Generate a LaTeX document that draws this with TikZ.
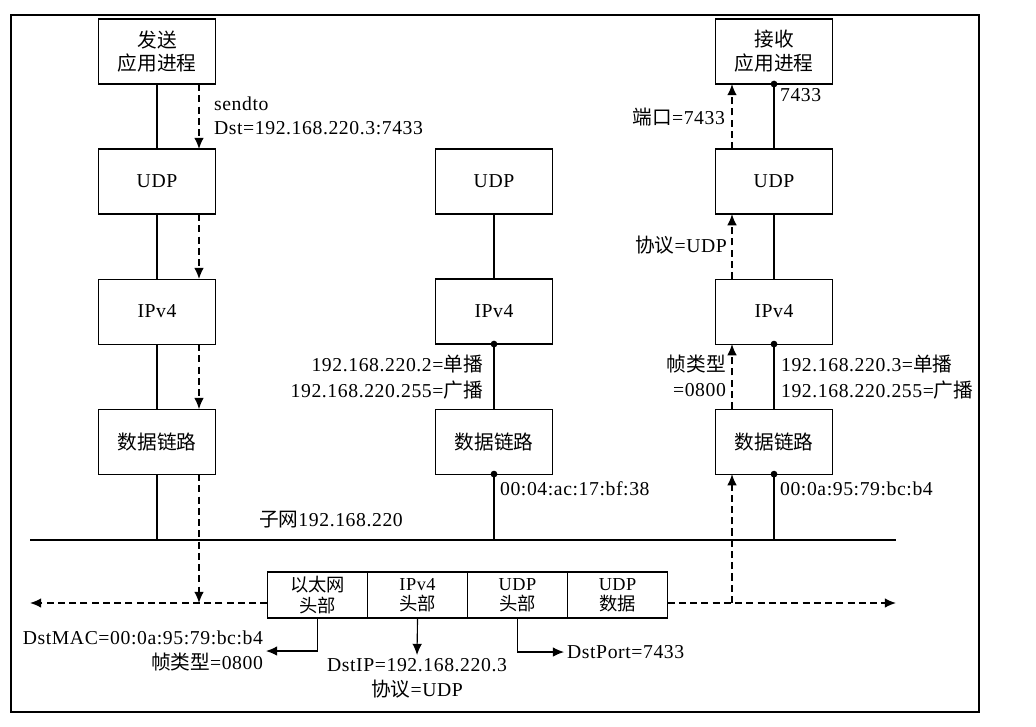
\documentclass[tikz,border=0pt]{standalone}
\usepackage{fontspec}
\setmainfont{Liberation Serif}[LetterSpace=3]
\newfontfamily\cjk{Noto Sans CJK SC}
\newcommand{\zh}[1]{{\cjk #1}}
\usetikzlibrary{arrows.meta, calc, positioning}

\tikzset{
  layer/.style={draw, line width=0.8pt, minimum width=2.925cm, minimum height=1.625cm,
    inner sep=0pt, outer sep=0pt, align=center},
  cell/.style={draw, line width=0.8pt, minimum width=2.5cm, minimum height=1.15cm,
    inner sep=0pt, outer sep=0pt, align=center, font=\fontsize{13}{14.5}\selectfont},
  wire/.style={line width=0.8pt},
  flow/.style={line width=1pt, dash pattern=on 5pt off 3pt, -{Latex[length=2.8mm, width=2.4mm]}},
  tag/.style={line width=0.8pt, -{Latex[length=2.8mm, width=2.4mm]}},
  lbl/.style={inner sep=2pt},
}

\begin{document}
\begin{tikzpicture}[x=0.025cm, y=-0.025cm, node distance=1.625cm,
  font=\fontsize{14}{17}\selectfont]
  \useasboundingbox (0,0) rectangle (1036,726);
  \draw[line width=1.2pt] (11,15) rectangle (979,712);
  % sending host
  \node[layer] (sapp) at (157,51.5) {\zh{发送}\\\zh{应用进程}};
  \node[layer, below=of sapp] (sudp) {UDP};
  \node[layer, below=of sudp] (sip) {IPv4};
  \node[layer, below=of sip] (slink) {\zh{数据链路}};
  % other host
  \node[layer] (mudp) at (494,181.5) {UDP};
  \node[layer, below=of mudp] (mip) {IPv4};
  \node[layer, below=of mip] (mlink) {\zh{数据链路}};
  % receiving host
  \node[layer] (rapp) at (774,51.5) {\zh{接收}\\\zh{应用进程}};
  \node[layer, below=of rapp] (rudp) {UDP};
  \node[layer, below=of rudp] (rip) {IPv4};
  \node[layer, below=of rip] (rlink) {\zh{数据链路}};
  % stack links
  \draw[wire] (sapp) -- (sudp);
  \draw[wire] (sudp) -- (sip);
  \draw[wire] (sip) -- (slink);
  \draw[wire] (mudp) -- (mip);
  \draw[wire] (mip) -- (mlink);
  \draw[wire] (rapp) -- (rudp);
  \draw[wire] (rudp) -- (rip);
  \draw[wire] (rip) -- (rlink);
  % subnet
  \coordinate (lanl) at (30,540);
  \coordinate (lanr) at (896,540);
  \draw[wire] (lanl) -- (lanr);
  \draw[wire] (slink.south) -- (slink.south |- lanl);
  \draw[wire] (mlink.south) -- (mlink.south |- lanl);
  \draw[wire] (rlink.south) -- (rlink.south |- lanl);
  \node[lbl, anchor=west] (subnet) at (256,520) {\zh{子网}192.168.220};
  % bound ports and addresses
  \fill (rapp.south) circle (2.4pt);
  \fill (mip.south) circle (2.4pt);
  \fill (rip.south) circle (2.4pt);
  \fill (mlink.south) circle (2.4pt);
  \fill (rlink.south) circle (2.4pt);
  % frame
  \node[cell] (f1) at (317.5,595) {\zh{以太网}\\\zh{头部}};
  \node[cell, right=0pt of f1] (f2) {IPv4\\\zh{头部}};
  \node[cell, right=0pt of f2] (f3) {UDP\\\zh{头部}};
  \node[cell, right=0pt of f3] (f4) {UDP\\\zh{数据}};
  \coordinate (wl) at (30,603);
  \coordinate (wr) at (896,603);
  \coordinate (sdrop) at (199,603);
  \coordinate (rrise) at (732,603);
  \draw[flow] (f1.west |- wl) -- (wl);
  \draw[flow] (f4.east |- wr) -- (wr);
  % path down the sender
  \draw[flow] ($(sapp.south)+(42,0)$) -- ($(sudp.north)+(42,0)$);
  \draw[flow] ($(sudp.south)+(42,0)$) -- ($(sip.north)+(42,0)$);
  \draw[flow] ($(sip.south)+(42,0)$) -- ($(slink.north)+(42,0)$);
  \draw[flow] ($(slink.south)+(42,0)$) -- (sdrop);
  % path up the receiver
  \draw[flow] (rrise) -- ($(rlink.south)+(-42,0)$);
  \draw[flow] ($(rlink.north)+(-42,0)$) -- ($(rip.south)+(-42,0)$);
  \draw[flow] ($(rip.north)+(-42,0)$) -- ($(rudp.south)+(-42,0)$);
  \draw[flow] ($(rudp.north)+(-42,0)$) -- ($(rapp.south)+(-42,0)$);
  % labels
  \node[lbl, anchor=west, align=left] (send) at (211,116)
    {sendto\\Dst=192.168.220.3:7433};
  \node[lbl, anchor=east, align=right] (maddr) at (486,377)
    {192.168.220.2=\zh{单播}\\[1pt]192.168.220.255=\zh{广播}};
  \node[lbl, anchor=west] (mmac) at (497,489) {00:04:ac:17:bf:38};
  \node[lbl, anchor=west] (rport) at (777,95) {7433};
  \node[lbl, anchor=east] (port) at (728,117) {\zh{端口}=7433};
  \node[lbl, anchor=east] (proto) at (730,245) {\zh{协议}=UDP};
  \node[lbl, anchor=east, align=right] (ftype) at (729,376)
    {\zh{帧类型}\\[1pt]=0800};
  \node[lbl, anchor=west, align=left] (raddr) at (778,377)
    {192.168.220.3=\zh{单播}\\[1pt]192.168.220.255=\zh{广播}};
  \node[lbl, anchor=west] (rmac) at (777,489) {00:0a:95:79:bc:b4};
  % header fields
  \node[lbl, anchor=east, align=right] (mac) at (266,651)
    {DstMAC=00:0a:95:79:bc:b4\\[1pt]\zh{帧类型}=0800};
  \node[lbl, anchor=north, align=center] (ipf) at (417,655)
    {DstIP=192.168.220.3\\[1pt]\zh{协议}=UDP};
  \node[lbl, anchor=west] (portf) at (564,652) {DstPort=7433};
  \draw[tag] (f1.south) |- (mac.east);
  \draw[tag] (f2.south) -- (ipf.north);
  \draw[tag] (f3.south) |- (portf.west);
\end{tikzpicture}
\end{document}
